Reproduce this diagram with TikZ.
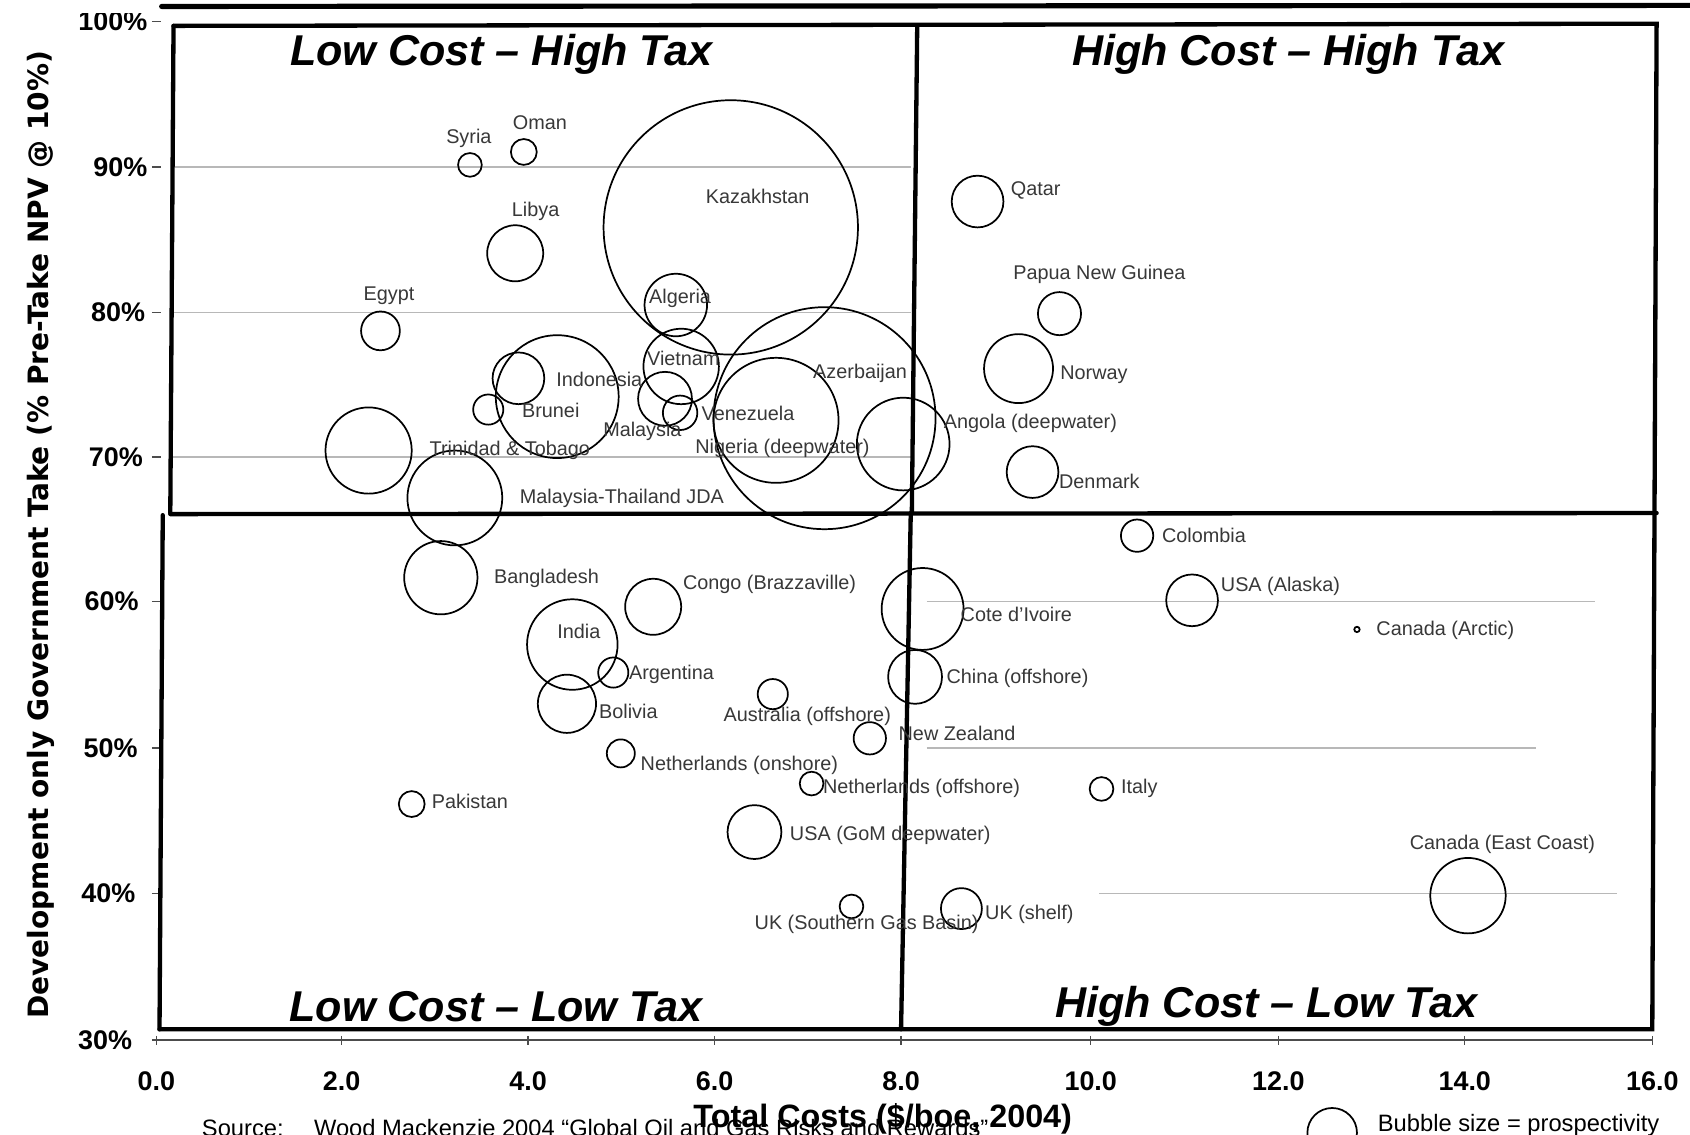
\documentclass[tikz,border=0pt]{standalone}
\usepackage{fontspec}
\setmainfont{Liberation Sans}
\newfontfamily\vfont{DejaVu Sans}
\begin{document}
\begin{tikzpicture}[x=0.5pt,y=-0.5pt,
  bub/.style={circle, draw=black, line width=0.8pt, inner sep=0pt, minimum size=#1pt},
  lab/.style={font=\fontsize{9.2}{11}\selectfont, text=black!78, inner sep=0pt},
  qt/.style={font=\fontsize{20}{24}\selectfont\bfseries\itshape, inner sep=0pt},
  frame/.style={line width=2pt, line cap=round},
  gridl/.style={black!28, line width=0.6pt},
  ylab/.style={font=\fontsize{12.5}{15}\selectfont\bfseries, anchor=east, inner sep=0pt},
  xlab/.style={font=\fontsize{12.5}{15}\selectfont\bfseries, inner sep=0pt},
  tickm/.style={black!70, line width=0.6pt}]
\useasboundingbox (0,0) rectangle (1568,1053);
\fill[white] (0,0) rectangle (1568,1053);

% gridlines
\draw[gridl] (160,155) -- (845,155);
\draw[gridl] (160,290) -- (845,290);
\draw[gridl] (160,424) -- (845,424);
\draw[gridl] (860,558) -- (1480,558);
\draw[gridl] (860,694) -- (1425,694);
\draw[gridl] (1020,829) -- (1500,829);

% y tick labels
\node[ylab] (y100) at (137,20) {100\%};
\node[ylab] (y90) at (137,155) {90\%};
\node[ylab] (y80) at (135,290) {80\%};
\node[ylab] (y70) at (133,424) {70\%};
\node[ylab] (y60) at (129,558) {60\%};
\node[ylab] (y50) at (128,694) {50\%};
\node[ylab] (y40) at (126,829) {40\%};
\node[ylab] (y30) at (123,965) {30\%};
\fill[white] (60,0) rectangle (150,12);
\foreach \yy in {20,155,290,424,558,694,829,965} \draw[tickm] (141,\yy) -- (149,\yy);

% x axis
\draw[tickm] (145,965) -- (1533,965);
\foreach \xx in {145,317,490,663,836,1012,1186,1359,1533} \draw[tickm] (\xx,961) -- (\xx,970);
\node[xlab] (x0) at (145,1003) {0.0};
\node[xlab] (x2) at (317,1003) {2.0};
\node[xlab] (x4) at (490,1003) {4.0};
\node[xlab] (x6) at (663,1003) {6.0};
\node[xlab] (x8) at (836,1003) {8.0};
\node[xlab] (x10) at (1012,1003) {10.0};
\node[xlab] (x12) at (1186,1003) {12.0};
\node[xlab] (x14) at (1359,1003) {14.0};
\node[xlab] (x16) at (1533,1003) {16.0};

% axis titles
\node[font=\fontsize{13}{15}\selectfont\vfont\bfseries, rotate=90, inner sep=0pt] (ytitle) at (38,496) {Development only Government Take (\% Pre-Take NPV @ 10\%)};
\node[font=\fontsize{11}{13}\selectfont, anchor=base west, inner sep=0pt] (src1) at (187,1054) {Source:};
\node[font=\fontsize{11}{13}\selectfont, anchor=base west, inner sep=0pt] (src2) at (291,1054) {Wood Mackenzie 2004 “Global Oil and Gas Risks and Rewards”};
\node[font=\fontsize{15}{18}\selectfont\bfseries, inner sep=0pt] (xtitle) at (819,1038) {Total Costs (\$/boe, 2004)};
\node[bub=23] (legb) at (1236,1051) {};
\node[font=\fontsize{11}{13}\selectfont, anchor=base west, inner sep=0pt] (legt) at (1278,1050) {Bubble size = prospectivity};

% frame
\draw[frame, line width=2.4pt] (150,6) -- (1568,5);
\draw[frame] (161,24) -- (1537,22) -- (1533,955) -- (148,955);
\draw[frame] (161,24) -- (158,476);
\draw[frame] (151,478) -- (148,955);
\draw[frame] (158,477) -- (1537,476);
\draw[frame] (851,24) -- (846,476);
\draw[frame] (845,476) -- (836,955);

% quadrant titles
\node[qt] (q1) at (465,50) {Low Cost – High Tax};
\node[qt] (q2) at (1195,50) {High Cost – High Tax};
\node[qt] (q3) at (460,934) {Low Cost – Low Tax};
\node[qt] (q4) at (1175,934) {High Cost – Low Tax};

% bubbles upper left
\node[bub=11] (syria) at (436,153) {};
\node[bub=12] (oman) at (486,141) {};
\node[bub=26] (libya) at (478,235) {};
\node[bub=18] (egypt) at (353,307) {};
\node[bub=118] (kaz) at (678,211) {};
\node[bub=29] (alg) at (627,283) {};
\node[bub=35] (viet) at (632,340) {};
\node[bub=57] (indo) at (517,368) {};
\node[bub=24] (indo2) at (481,351) {};
\node[bub=14] (brunei) at (453,380) {};
\node[bub=40] (trin) at (342,418) {};
\node[bub=44] (mtjda) at (422,462) {};
\node[bub=25] (malay) at (617,370) {};
\node[bub=16] (venez) at (631,383) {};
\node[bub=58] (nigeria) at (720,390) {};
\node[bub=103] (azer) at (765,388) {};
\node[bub=43] (angola) at (838,412) {};
% upper right
\node[bub=24] (qatar) at (907,187) {};
\node[bub=20] (png) at (983,291) {};
\node[bub=32] (norway) at (945,342) {};
\node[bub=24] (denmark) at (958,438) {};
% lower left
\node[bub=34] (bangl) at (409,536) {};
\node[bub=26] (congo) at (606,563) {};
\node[bub=42] (india) at (531,598) {};
\node[bub=14] (argent) at (569,624) {};
\node[bub=27] (bolivia) at (526,653) {};
\node[bub=14] (austr) at (717,644) {};
\node[bub=13] (nlon) at (576,699) {};
\node[bub=12] (pak) at (382,746) {};
\node[bub=11] (nloff) at (753,727) {};
\node[bub=25] (usagom) at (700,772) {};
\node[bub=11] (uksgb) at (790,841) {};
\node[bub=15] (nz) at (807,685) {};
\node[bub=38] (cote) at (856,565) {};
\node[bub=25] (china) at (849,628) {};
\node[bub=19] (ukshelf) at (892,843) {};
% lower right
\node[bub=15] (colombia) at (1055,497) {};
\node[bub=24] (usaak) at (1106,557) {};
\node[bub=2.5] (canarc) at (1259,584) {};
\node[bub=11] (italy) at (1022,732) {};
\node[bub=35] (caneast) at (1362,831) {};

% labels
\node[lab] (lsyria) at (435,128) {Syria};
\node[lab] (loman) at (501,114) {Oman};
\node[lab] (llibya) at (497,196) {Libya};
\node[lab] (legypt) at (361,274) {Egypt};
\node[lab] (lkaz) at (703,182) {Kazakhstan};
\node[lab] (lalg) at (631,277) {Algeria};
\node[lab] (lviet) at (634,333) {Vietnam};
\node[lab] (lindo) at (556,352) {Indonesia};
\node[lab] (lazer) at (798,346) {Azerbaijan};
\node[lab] (lbrunei) at (511,381) {Brunei};
\node[lab] (lvenez) at (694,384) {Venezuela};
\node[lab] (lmalay) at (596,400) {Malaysia};
\node[lab] (ltrin) at (473,418) {Trinidad \& Tobago};
\node[lab] (lnigeria) at (726,416) {Nigeria (deepwater)};
\node[lab] (lmtjda) at (577,462) {Malaysia-Thailand JDA};
\node[lab] (lqatar) at (961,177) {Qatar};
\node[lab] (lpng) at (1020,255) {Papua New Guinea};
\node[lab] (lnorway) at (1015,348) {Norway};
\node[lab] (langola) at (956,393) {Angola (deepwater)};
\node[lab] (ldenmark) at (1020,447) {Denmark};
\node[lab] (lcolombia) at (1117,497) {Colombia};
\node[lab] (lbangl) at (507,537) {Bangladesh};
\node[lab] (lcongo) at (714,542) {Congo (Brazzaville)};
\node[lab] (lusaak) at (1188,544) {USA (Alaska)};
\node[lab] (lcote) at (943,570) {Cote d'Ivoire};
\node[lab] (lindia) at (537,586) {India};
\node[lab] (lcanarc) at (1341,585) {Canada (Arctic)};
\node[lab] (largent) at (623,626) {Argentina};
\node[lab] (lchina) at (944,629) {China (offshore)};
\node[lab] (lbolivia) at (583,660) {Bolivia};
\node[lab] (laustr) at (749,665) {Australia (offshore)};
\node[lab] (lnz) at (888,680) {New Zealand};
\node[lab] (lnlon) at (686,710) {Netherlands (onshore)};
\node[lab] (lnloff) at (855,731) {Netherlands (offshore)};
\node[lab] (litaly) at (1057,731) {Italy};
\node[lab] (lpak) at (436,744) {Pakistan};
\node[lab] (lusagom) at (826,775) {USA (GoM deepwater)};
\node[lab] (lcaneast) at (1394,783) {Canada (East Coast)};
\node[lab] (lukshelf) at (955,848) {UK (shelf)};
\node[lab] (luksgb) at (804,858) {UK (Southern Gas Basin)};
\end{tikzpicture}
\end{document}
